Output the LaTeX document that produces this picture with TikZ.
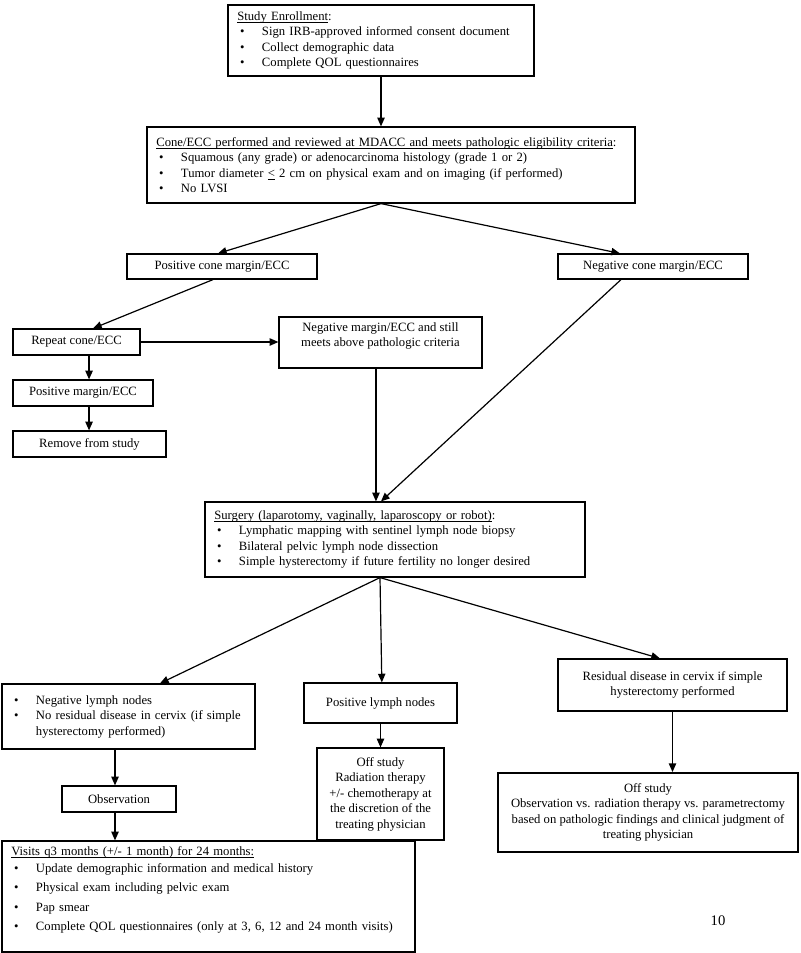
\documentclass[tikz,border=0pt]{standalone}
\usepackage{fontspec}
\setmainfont{Liberation Serif}
\usetikzlibrary{arrows.meta}

\newcommand{\bitem}[1]{\hspace*{2pt}\makebox[16.5pt][l]{\textbullet}#1}
\newcommand{\uln}[1]{\setbox0\hbox{#1}\makebox[0pt][l]{\rule[-1.9pt]{\wd0}{0.55pt}}\box0\relax}

\tikzset{
  box/.style={draw, line width=0.9pt, inner sep=0pt, align=center,
    font=\fontsize{9.5}{11.6}\selectfont},
  listbox/.style={box, align=left, inner xsep=7pt},
  arr/.style={-{Triangle[length=6.5pt,width=5.5pt]}, line width=0.9pt}
}

\begin{document}
\begin{tikzpicture}[x=0.75pt,y=-0.75pt]
\useasboundingbox (0,0) rectangle (800,953);

% Enrollment and eligibility
\node[listbox, minimum width=229.5pt, minimum height=53.25pt, text width=215.5pt] (enroll) at (381,40.5)
  {\uln{Study Enrollment}:\\
   \bitem{Sign IRB-approved informed consent document}\\
   \bitem{Collect demographic data}\\
   \bitem{Complete QOL questionnaires}};
\node[listbox, minimum width=366pt, minimum height=57pt, text width=352pt] (cone) at (391,165)
  {\uln{Cone/ECC performed and reviewed at MDACC and meets pathologic eligibility criteria}:\\
   \bitem{Squamous (any grade) or adenocarcinoma histology (grade 1 or 2)}\\
   \bitem{Tumor diameter \uln{<} 2 cm on physical exam and on imaging (if performed)}\\
   \bitem{No LVSI}};

% Cone margins
\node[box, minimum width=142.5pt, minimum height=18.75pt] (poscone) at (222,266.5) {Positive cone margin/ECC};
\node[box, minimum width=142.5pt, minimum height=18.75pt] (negcone) at (653,266.5) {Negative cone margin/ECC};
\node[box, minimum width=95.25pt, minimum height=19.5pt] (repeat) at (76.5,342) {Repeat cone/ECC};
\node[box, minimum width=152.25pt, minimum height=38.25pt] (negmargin) at (380.5,342.5)
  {Negative margin/ECC and still\\ meets above pathologic criteria\\ \mbox{}};
\node[box, minimum width=105pt, minimum height=19.5pt] (posmargin) at (83,393) {Positive margin/ECC};
\node[box, minimum width=114.75pt, minimum height=19.5pt] (remove) at (89.5,444) {Remove from study};

% Surgery
\node[listbox, minimum width=285pt, minimum height=56.25pt, text width=271pt] (surgery) at (395,539.5)
  {\uln{Surgery (laparotomy, vaginally, laparoscopy or robot)}:\\
   \bitem{Lymphatic mapping with sentinel lymph node biopsy}\\
   \bitem{Bilateral pelvic lymph node dissection}\\
   \bitem{Simple hysterectomy if future fertility no longer desired}};

% Outcomes
\node[listbox, minimum width=189.75pt, minimum height=48.75pt, text width=175.75pt] (neglymph) at (128.5,716.5)
  {\bitem{Negative lymph nodes}\\
   \bitem{No residual disease in cervix (if simple}\\
   \hspace*{18.5pt}hysterectomy performed)};
\node[box, minimum width=114.75pt, minimum height=30pt] (poslymph) at (380.5,703) {Positive lymph nodes};
\node[box, minimum width=95.25pt, minimum height=69pt] (offmid) at (380.5,794)
  {Off study\\ Radiation therapy\\ +/- chemotherapy at\\ the discretion of the\\ treating physician};
\node[box, minimum width=171.75pt, minimum height=39pt] (residual) at (672.5,685)
  {Residual disease in cervix if simple\\ hysterectomy performed};
\node[box, line width=1.4pt, minimum width=225pt, minimum height=59.25pt] (offright) at (648,812.5)
  {Off study\\ Observation vs. radiation therapy vs. parametrectomy\\ based on pathologic findings and clinical judgment of\\ treating physician};
\node[box, minimum width=85.5pt, minimum height=19.5pt] (observ) at (119,799) {Observation};
\node[listbox, minimum width=309.75pt, minimum height=83.25pt, text width=295.75pt] (visits) at (208.5,896.5)
  {\uln{Visits q3 months (+/- 1 month) for 24 months:}\\[1pt]
   \bitem{Update demographic information and medical history}\\[3pt]
   \bitem{Physical exam including pelvic exam}\\[3pt]
   \bitem{Pap smear}\\[3pt]
   \bitem{Complete QOL questionnaires (only at 3, 6, 12 and 24 month visits)}\\
   \mbox{}};
\node[font=\fontsize{11}{13}\selectfont] (pagenum) at (718,921) {10};

% Arrows
\draw[arr] (enroll.south) -- (enroll.south |- cone.north);
\draw[arr] ([xshift=-7.5pt]cone.south) -- ([xshift=-3pt]poscone.north);
\draw[arr] ([xshift=-7.5pt]cone.south) -- ([xshift=-24.75pt]negcone.north);
\draw[arr] ([xshift=-6.75pt]poscone.south) -- ([xshift=12.4pt]repeat.north);
\draw[arr] (repeat.east) -- (repeat.east -| negmargin.west);
\draw[arr] ([xshift=9.4pt]repeat.south) -- ([xshift=9.4pt]repeat.south |- posmargin.north);
\draw[arr] ([xshift=9.4pt]repeat.south |- posmargin.south) -- ([xshift=9.4pt]repeat.south |- remove.north);
\draw[arr] ([xshift=-3.4pt]negmargin.south) -- ([xshift=-3.4pt]negmargin.south |- surgery.north);
\draw[arr] ([xshift=-24pt]negcone.south) -- ([xshift=-10.5pt]surgery.north);
\draw[arr] ([xshift=-11.25pt]surgery.south) -- ([xshift=23.6pt]neglymph.north);
\draw[arr] ([xshift=-11.25pt]surgery.south) -- ([xshift=1pt]poslymph.north);
\draw[arr] ([xshift=-11.25pt]surgery.south) -- ([xshift=-9.4pt]residual.north);
\draw[arr] (poslymph.south) -- (offmid.north);
\draw[arr] (residual.south) -- (residual.south |- offright.north);
\draw[arr] ([xshift=-3pt]observ.north |- neglymph.south) -- ([xshift=-3pt]observ.north);
\draw[arr] ([xshift=-3pt]observ.south) -- ([xshift=-3pt]observ.south |- visits.north);
\end{tikzpicture}
\end{document}
